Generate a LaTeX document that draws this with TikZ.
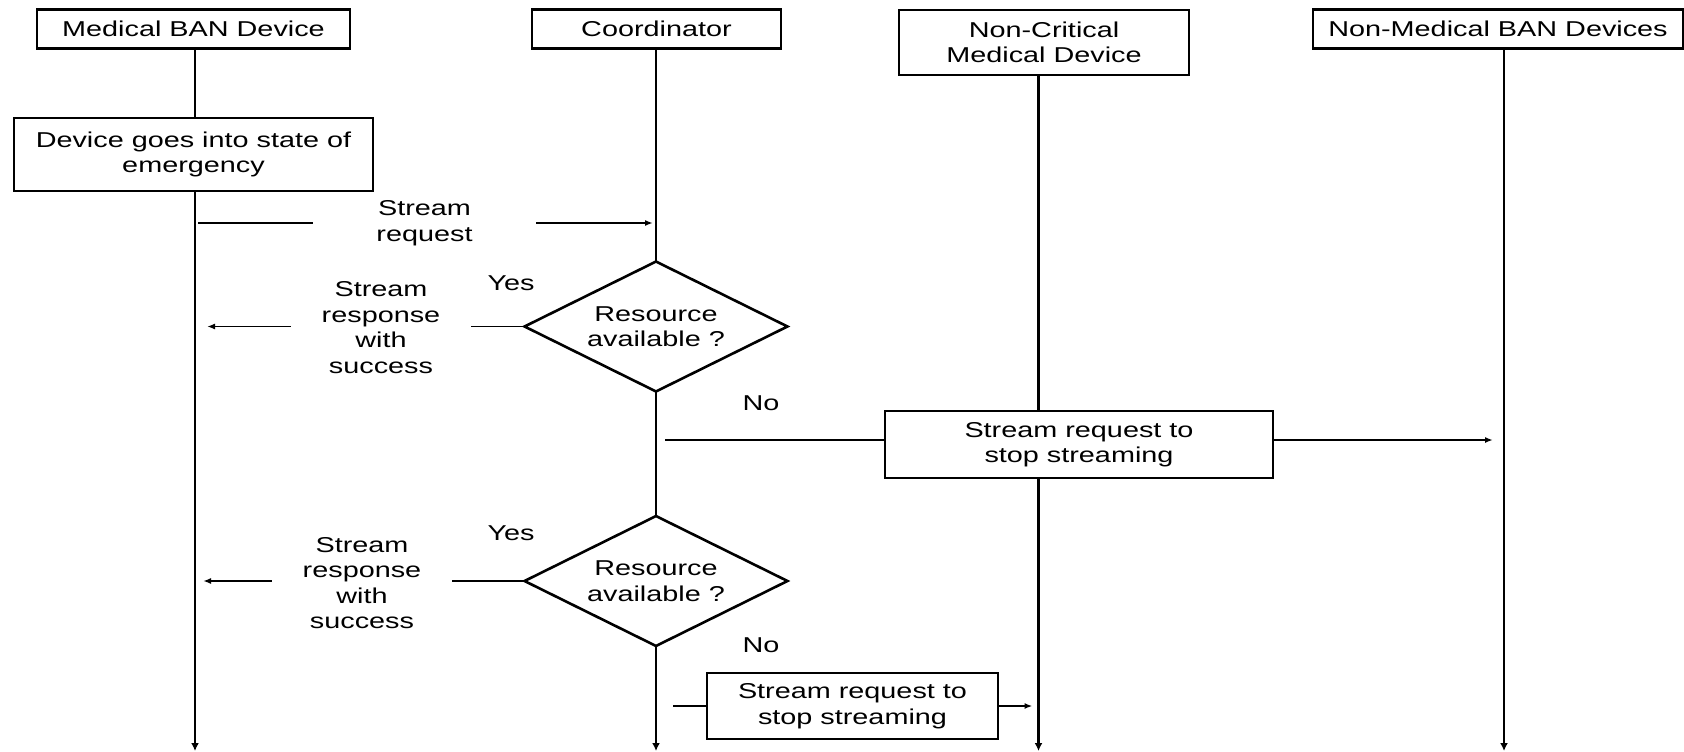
\documentclass[tikz,border=0pt]{standalone}
\usepackage{fontspec}
\setmainfont{Liberation Sans}[FakeStretch=1.34]
\usetikzlibrary{arrows.meta,shapes.geometric}

\begin{document}
\begin{tikzpicture}[x=1pt,y=-1pt]
	\tikzstyle{every node}+=[inner sep=0pt, align=center, font=\fontsize{21.5}{25.5}\selectfont]
	\tikzstyle{head}=[draw, line width=2.6pt, fill=white]
	\tikzstyle{life}=[line width=2.8pt, -{Latex[length=8pt,width=8pt]}]
	\tikzstyle{msg}=[line width=1.9pt]
	\tikzstyle{tip}=[-{Latex[length=8pt,width=6pt]}]
	\tikzstyle{decide}=[draw, diamond, aspect=2, line width=2.6pt, fill=white, minimum width=264pt, minimum height=131pt]
	\useasboundingbox (0,0) rectangle (1684,752);
	\node [head, minimum width=313pt, minimum height=39pt] (mban) at (193.5,29) {Medical BAN Device};
	\node [head, minimum width=249pt, minimum height=39pt] (coord) at (656.5,29) {Coordinator};
	\node [head, minimum width=290pt, minimum height=65pt] (ncmd) at (1044,42.5) {Non-Critical\\Medical Device};
	\node [head, minimum width=370pt, minimum height=39pt] (nmban) at (1498,29) {Non-Medical BAN Devices};
	\coordinate (e1) at (195,751);
	\coordinate (e2) at (656,751);
	\coordinate (e3) at (1038.5,751);
	\coordinate (e4) at (1504,751);
	\draw [life] (mban.south -| e1) -- (e1);
	\draw [life] (coord.south -| e2) -- (e2);
	\draw [life] (ncmd.south -| e3) -- (e3);
	\draw [life] (nmban.south -| e4) -- (e4);
	\node [head, minimum width=359pt, minimum height=73pt] (emerg) at (193.5,154.5) {Device goes into state of\\emergency};
	\node [minimum width=223pt] (sreq) at (424.5,223) {Stream\\request};
	\draw [msg, shorten <=3pt] (sreq.west -| e1) -- (sreq.west);
	\draw [msg, tip, shorten >=3pt] (sreq.east) -- (sreq.east -| e2);
	\node [decide] (res1) at (656,326.5) {Resource\\available ?};
	\node [minimum width=180pt] (sresp1) at (381,327.5) {Stream\\response\\with\\success};
	\draw [msg] (res1.west) -- (res1.west -| sresp1.east);
	\draw [msg, tip, shorten >=12pt] (res1.west -| sresp1.west) -- (res1.west -| e1);
	\node (yes1) at (511,283.5) {Yes};
	\node (no1) at (761,403) {No};
	\node [head, minimum width=388pt, minimum height=67pt] (stop1) at (1079,444.5) {Stream request to\\stop streaming};
	\draw [msg, shorten <=9pt] ([yshift=4.5pt]stop1.west -| e2) -- ([yshift=4.5pt]stop1.west);
	\draw [msg, tip, shorten >=11pt] ([yshift=4.5pt]stop1.east) -- ([yshift=4.5pt]stop1.east -| e4);
	\node [decide] (res2) at (656,581) {Resource\\available ?};
	\node [minimum width=180pt] (sresp2) at (362,583) {Stream\\response\\with\\success};
	\draw [msg] (res2.west) -- (res2.west -| sresp2.east);
	\draw [msg, tip, shorten >=8pt] (res2.west -| sresp2.west) -- (res2.west -| e1);
	\node (yes2) at (511,533) {Yes};
	\node (no2) at (761,645) {No};
	\node [head, minimum width=291pt, minimum height=66pt] (stop2) at (852.5,706) {Stream request to\\stop streaming};
	\draw [msg, shorten <=17pt] (stop2.west -| e2) -- (stop2.west);
	\draw [msg, tip, shorten >=6pt] (stop2.east) -- (stop2.east -| e3);
\end{tikzpicture}
\end{document}
